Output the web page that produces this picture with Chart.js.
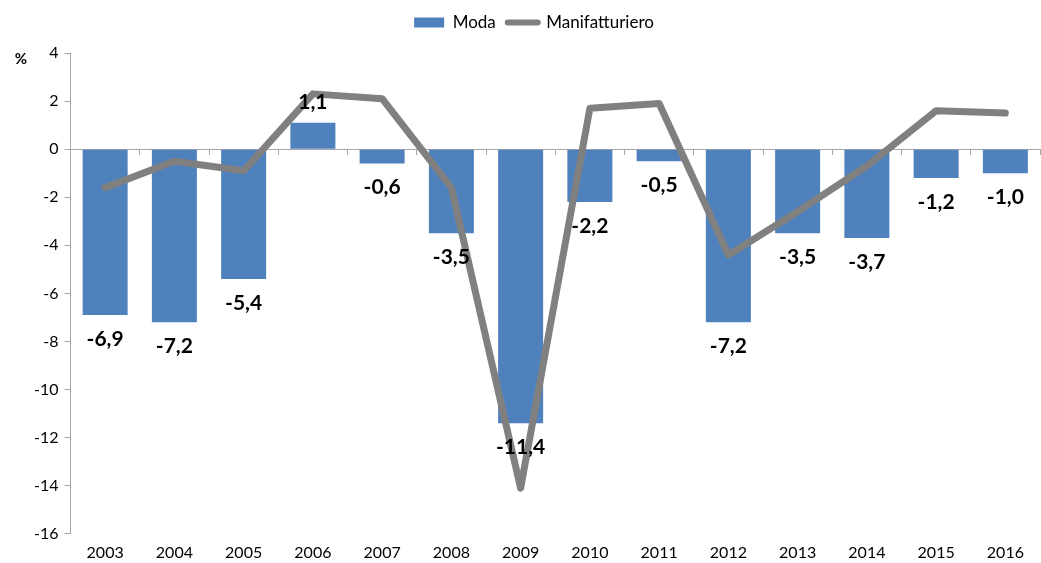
<!DOCTYPE html>
<html>
<head>
<meta charset="utf-8">
<script src="https://cdn.jsdelivr.net/npm/chart.js@4"></script>
<style>
  html, body { margin: 0; padding: 0; background: #fff; }
  #wrap { width: 1041px; height: 563px; }
</style>
</head>
<body>
<div id="wrap"><canvas id="chart" width="1041" height="563"></canvas></div>
<script>
const years = ['2003', '2004', '2005', '2006', '2007', '2008', '2009', '2010', '2011', '2012', '2013', '2014', '2015', '2016'];
const moda = [-6.9, -7.2, -5.4, 1.1, -0.6, -3.5, -11.4, -2.2, -0.5, -7.2, -3.5, -3.7, -1.2, -1.0];
const manifatturiero = [-1.6, -0.5, -0.9, 2.3, 2.1, -1.6, -14.1, 1.7, 1.9, -4.4, -2.6, -0.7, 1.6, 1.5];
const yTicks = [4, 2, 0, -2, -4, -6, -8, -10, -12, -14, -16];

const FONT = 'Lato, "Open Sans", sans-serif';

// bar value labels + the "%" unit
const labelPlugin = {
  id: 'barLabels',
  afterDatasetsDraw(chart) {
    const ctx = chart.ctx;
    const meta = chart.getDatasetMeta(0);
    ctx.save();
    ctx.font = 'bold 21px ' + FONT;
    ctx.fillStyle = '#000';
    ctx.textAlign = 'center';
    ctx.textBaseline = 'middle';
    meta.data.forEach((bar, i) => {
      const v = moda[i];
      const txt = v.toFixed(1).replace('.', ',');
      const y = v < 0 ? bar.y + 24 : bar.y - 20;
      ctx.fillText(txt, bar.x, y);
    });
    ctx.font = 'bold 15px ' + FONT;
    ctx.fillText('%', 21, 59);
    ctx.restore();
  }
};

new Chart(document.getElementById('chart').getContext('2d'), {
  type: 'bar',
  data: {
    labels: years,
    datasets: [{
      label: 'Moda',
      data: moda,
      backgroundColor: '#4F81BD',
      barPercentage: 0.65,
      categoryPercentage: 1,
      order: 2
    }, {
      type: 'line',
      label: 'Manifatturiero',
      data: manifatturiero,
      borderColor: '#808080',
      backgroundColor: '#808080',
      borderWidth: 7,
      pointRadius: 0,
      tension: 0,
      borderCapStyle: 'round',
      borderJoinStyle: 'round',
      order: 1
    }]
  },
  plugins: [labelPlugin, {
    id: 'legendGap',
    beforeInit(chart) {
      const fit = chart.legend.fit;
      chart.legend.fit = function () { fit.bind(chart.legend)(); this.height += 12; };
    }
  }],
  options: {
    responsive: false,
    animation: false,
    layout: { padding: { left: 28, right: 1, top: 2, bottom: 0 } },
    plugins: {
      legend: {
        position: 'top',
        labels: {
          font: { family: FONT, size: 17 },
          color: '#000',
          usePointStyle: true,
          pointStyleWidth: 30,
          boxHeight: 10,
          padding: 12,
          generateLabels(chart) {
            return [
              { text: 'Moda', fillStyle: '#4F81BD', strokeStyle: '#4F81BD', lineWidth: 0, pointStyle: 'rect', datasetIndex: 0 },
              { text: 'Manifatturiero', fillStyle: '#808080', strokeStyle: '#808080', lineWidth: 6, lineCap: 'round', pointStyle: 'line', datasetIndex: 1 }
            ];
          }
        }
      },
      tooltip: { enabled: false }
    },
    scales: {
      x: {
        position: 'bottom',
        border: { display: false },
        grid: { display: false },
        ticks: { font: { family: FONT, size: 16 }, color: '#000', padding: 1 }
      },
      x0: {
        type: 'category',
        labels: years,
        position: { y: 0 },
        offset: true,
        border: { display: true, color: '#A6A6A6', width: 1 },
        grid: { offset: true, drawOnChartArea: false, drawTicks: true, tickLength: 5, color: '#A6A6A6' },
        ticks: { display: false }
      },
      y: {
        min: -16,
        max: 4,
        afterBuildTicks(axis) { axis.ticks = yTicks.map(v => ({ value: v })); },
        border: { display: true, color: '#A6A6A6' },
        grid: { drawOnChartArea: false, drawTicks: true, tickLength: 6, color: '#A6A6A6' },
        ticks: { font: { family: FONT, size: 16 }, color: '#000', padding: 6 }
      }
    }
  }
});
</script>
</body>
</html>
